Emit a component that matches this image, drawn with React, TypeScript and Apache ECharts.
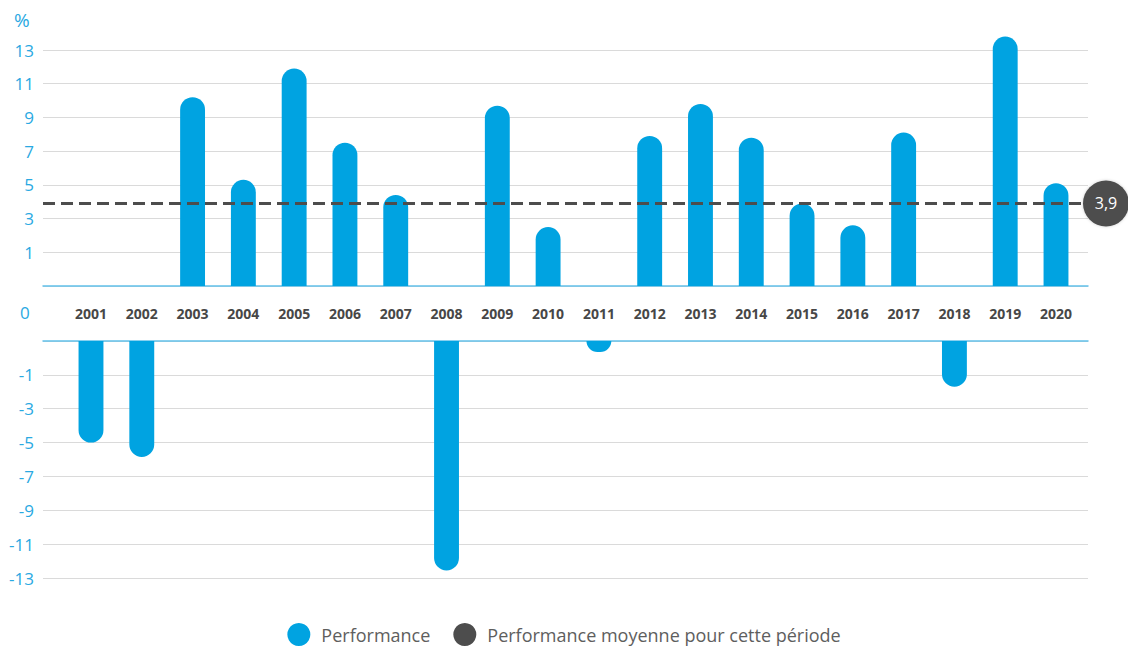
import React, { useEffect, useRef } from "react";
import * as echarts from "echarts";

const years = ["2001","2002","2003","2004","2005","2006","2007","2008","2009","2010","2011","2012","2013","2014","2015","2016","2017","2018","2019","2020"];
// values read on the upper (gains) panel scale; null where the bar is in the lower panel
const gains: (number | null)[] = [null, null, 10.2, 5.3, 11.9, 7.5, 4.4, null, 9.7, 2.5, null, 7.9, 9.8, 7.8, 3.9, 2.6, 8.1, null, 13.8, 5.1];
// values read on the lower (losses) panel scale; null where the bar is in the upper panel
const losses: (number | null)[] = [-5.0, -5.85, null, null, null, null, null, -12.55, null, null, 0.35, null, null, null, null, null, null, -1.7, null, null];
const average = 3.9;

const topTicks = { min: -1, max: 13, interval: 2 };
const bottomTicks = { min: -13, max: 1, interval: 2 };

const BLUE = "#00a3e1";
const DARK = "#4d4d4d";
const AXIS_BLUE = "#62c1ea";
const GRID_GREY = "#dadada";
const LABEL_BLUE = "#2aa9e2";
const FONT = "'Open Sans', 'Noto Sans', sans-serif";

export default function App() {
  const ref = useRef<HTMLDivElement>(null);
  useEffect(() => {
    document.body.style.margin = "0";
    if (!ref.current) return;
    const chart = echarts.init(ref.current, null, { renderer: "svg" });

    const wideLeft = 43, wideRight = 40;
    const narrowLeft = 65.6, narrowRight = 46.6;
    const topY = 50, topH = 236;
    const botY = 341, botH = 237;

    const makeRender = (base: number, up: boolean) => (params: any, api: any) => {
      const v = api.value(1);
      if (v == null || isNaN(v)) return null;
      const idx = api.value(0);
      const end = api.coord([idx, v]);
      const start = api.coord([idx, base]);
      const w = api.size([1, 0])[0] * 0.49;
      const r = w / 2;
      const y = Math.min(end[1], start[1]);
      const h = Math.abs(start[1] - end[1]);
      return {
        type: "rect",
        shape: { x: end[0] - w / 2, y, width: w, height: h, r: up ? [r, r, 0, 0] : [0, 0, r, r] },
        style: { fill: api.visual("color") },
      };
    };

    const yLabel = (hideVal: number) => ({
      color: LABEL_BLUE,
      fontSize: 17,
      fontFamily: FONT,
      margin: 9,
      formatter: (v: number) => (v === hideVal ? "" : String(v)),
    });

    chart.setOption({
      animation: false,
      grid: [
        { left: wideLeft, right: wideRight, top: topY, height: topH },
        { left: narrowLeft, right: narrowRight, top: topY, height: topH },
        { left: wideLeft, right: wideRight, top: botY, height: botH },
        { left: narrowLeft, right: narrowRight, top: botY, height: botH },
      ],
      xAxis: [
        { gridIndex: 0, type: "value", min: 0, max: 1, axisLine: { show: true, onZero: false, lineStyle: { color: AXIS_BLUE, width: 1.5 } }, axisTick: { show: false }, axisLabel: { show: false }, splitLine: { show: false } },
        { gridIndex: 1, type: "category", data: years, axisLine: { show: false }, axisTick: { show: false }, axisLabel: { color: "#474747", fontWeight: "bold", fontSize: 14, fontFamily: FONT, margin: 20 } },
        { gridIndex: 2, type: "value", position: "top", min: 0, max: 1, axisLine: { show: true, onZero: false, lineStyle: { color: AXIS_BLUE, width: 1.5 } }, axisTick: { show: false }, axisLabel: { show: false }, splitLine: { show: false } },
        { gridIndex: 3, type: "category", data: years, show: false },
      ],
      yAxis: [
        { gridIndex: 0, type: "value", ...topTicks, axisLine: { show: false }, axisTick: { show: false }, axisLabel: yLabel(topTicks.min), splitLine: { show: true, lineStyle: { color: GRID_GREY, width: 1.2 } } },
        { gridIndex: 1, type: "value", ...topTicks, show: false, splitLine: { show: false } },
        { gridIndex: 2, type: "value", ...bottomTicks, axisLine: { show: false }, axisTick: { show: false }, axisLabel: yLabel(bottomTicks.max), splitLine: { show: true, lineStyle: { color: GRID_GREY, width: 1.2 } } },
        { gridIndex: 3, type: "value", ...bottomTicks, show: false, splitLine: { show: false } },
      ],
      legend: {
        left: "center",
        top: 623,
        padding: 0,
        itemWidth: 23,
        itemHeight: 23,
        itemGap: 23,
        textStyle: { fontSize: 18, lineHeight: 22, color: "#5e5e5e", fontFamily: FONT, padding: [0, 0, 0, 6] },
        data: [
          { name: "Performance", icon: "circle" },
          { name: "Performance moyenne pour cette période", icon: "circle" },
        ],
      },
      graphic: [
        { type: "text", left: 14, top: 10, style: { text: "%", fill: LABEL_BLUE, font: `19px ${FONT}` } },
        { type: "text", left: 20, top: 304, style: { text: "0", fill: LABEL_BLUE, font: `17px ${FONT}` } },
      ],
      series: [
        {
          name: "Performance",
          type: "custom",
          xAxisIndex: 1,
          yAxisIndex: 1,
          itemStyle: { color: BLUE },
          encode: { x: 0, y: 1 },
          renderItem: makeRender(topTicks.min, true),
          data: gains.map((v, i) => [i, v == null ? NaN : v]),
        },
        {
          name: "Performance",
          type: "custom",
          xAxisIndex: 3,
          yAxisIndex: 3,
          itemStyle: { color: BLUE },
          encode: { x: 0, y: 1 },
          renderItem: makeRender(bottomTicks.max, false),
          data: losses.map((v, i) => [i, v == null ? NaN : v]),
        },
        {
          name: "Performance moyenne pour cette période",
          type: "line",
          xAxisIndex: 0,
          yAxisIndex: 0,
          z: 5,
          itemStyle: { color: DARK },
          data: [],
          markLine: {
            silent: true,
            symbol: "none",
            z: 5,
            lineStyle: { color: DARK, type: [12, 6], width: 3 },
            label: {
              position: "end",
              distance: 18,
              formatter: () => String(average).replace(".", ","),
              backgroundColor: DARK,
              color: "#ffffff",
              fontSize: 16,
              fontFamily: FONT,
              width: 46,
              height: 46,
              lineHeight: 46,
              align: "center",
              borderRadius: 23,
              shadowColor: "rgba(0,0,0,0.2)",
              shadowBlur: 3,
            },
            data: [{ yAxis: average }],
          },
        },
      ],
    });
    return () => chart.dispose();
  }, []);
  return <div ref={ref} style={{ width: 1128, height: 648 }} />;
}
